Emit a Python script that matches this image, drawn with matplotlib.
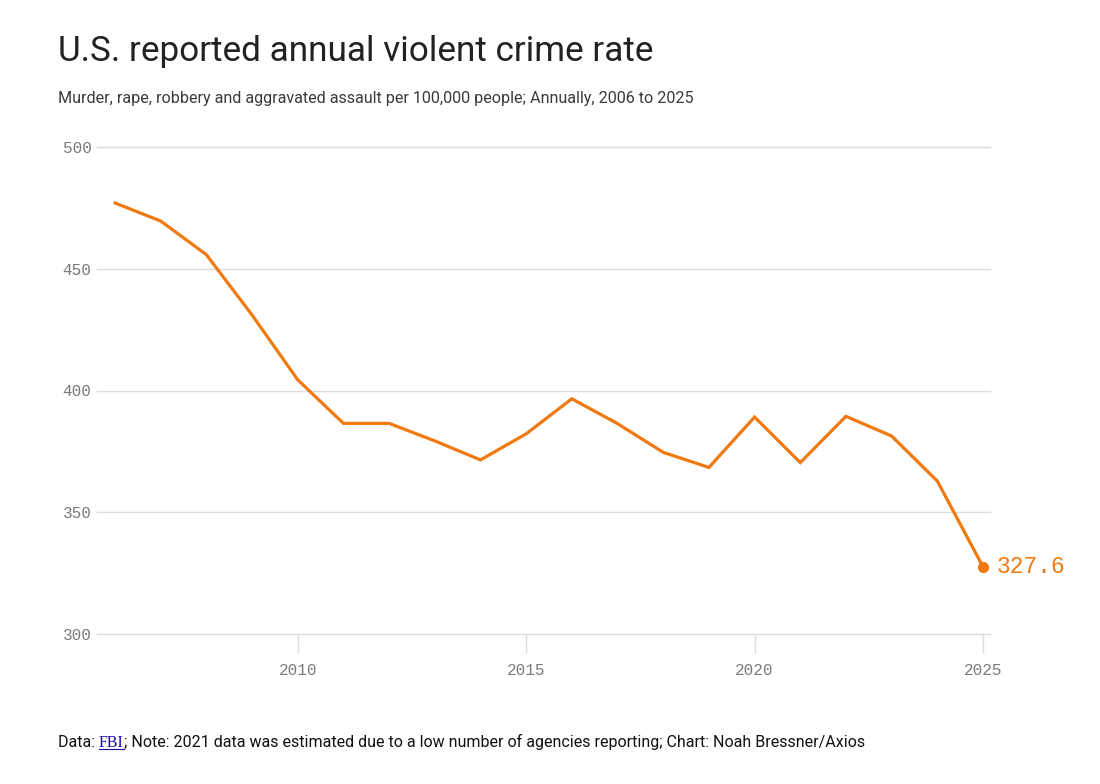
import matplotlib
matplotlib.use('Agg')
import matplotlib.pyplot as plt
import numpy as np

# Datos (tasa por 100.000 habitantes)
anios = [2006, 2007, 2008, 2009, 2010, 2011, 2012, 2013, 2014, 2015,
         2016, 2017, 2018, 2019, 2020, 2021, 2022, 2023, 2024, 2025]
tasa = [477.0, 469.6, 455.8, 431.0, 404.4, 386.5, 386.5, 379.3, 371.5, 382.2,
        396.6, 386.4, 374.6, 368.4, 389.1, 370.4, 389.4, 381.3, 362.8, 327.6]

y_ticks = [300, 350, 400, 450, 500]
x_ticks = [2010, 2015, 2020, 2025]

TITULO = 'U.S. reported annual violent crime rate'
SUBTITULO = ('Murder, rape, robbery and aggravated assault per 100,000 people; '
             'Annually, 2006 to 2025')

NARANJA = '#F07A10'
GRIS_GRILLA = '#DCDCDC'
GRIS_TEXTO = '#7A7A7A'
SANS = ['Roboto', 'DejaVu Sans']
MONO = ['Liberation Mono', 'DejaVu Sans Mono']

W, H = 1100, 784
fig = plt.figure(figsize=(W / 100, H / 100), dpi=100)

# ejes en pixeles: izquierda 97, derecha 990, arriba 147, abajo 634
ax = fig.add_axes([97 / W, 1 - 634 / H, (990 - 97) / W, (634 - 147) / H])
ax.set_xlim(2005.606, 2025.153)
ax.set_ylim(300, 500)

ax.plot(anios, tasa, color=NARANJA, lw=2.3, solid_joinstyle='miter', zorder=3)
ax.plot(anios[-1], tasa[-1], 'o', color=NARANJA, ms=7, zorder=4)
ax.annotate(f'{tasa[-1]:.1f}', (anios[-1], tasa[-1]), xytext=(10, 0),
            textcoords='offset points', va='center', ha='left',
            color=NARANJA, fontsize=16.5, family=MONO, annotation_clip=False)

for v in y_ticks:
    ax.axhline(v, color=GRIS_GRILLA, lw=1, zorder=1, clip_on=False)

for s in ax.spines.values():
    s.set_visible(False)

ax.set_yticks(y_ticks)
ax.set_xticks(x_ticks)
ax.tick_params(axis='y', length=0, pad=4, labelcolor=GRIS_TEXTO, labelsize=11.5)
ax.tick_params(axis='x', length=14, width=1, color=GRIS_GRILLA, pad=7,
               labelcolor=GRIS_TEXTO, labelsize=11.5)
for lab in ax.get_xticklabels() + ax.get_yticklabels():
    lab.set_family(MONO)

fig.text(58 / W, 1 - 61 / H, TITULO, fontsize=25.3, color='#222222',
         family=SANS, va='baseline')
fig.text(58 / W, 1 - 103 / H, SUBTITULO, fontsize=11.65, color='#3A3A3A',
         family=SANS, va='baseline')

# pie con el enlace FBI en azul subrayado
base_y = 1 - 747 / H
t1 = fig.text(58 / W, base_y, 'Data: ', fontsize=11.5, color='#111111',
              family=SANS, va='baseline')
fig.canvas.draw()
bb = t1.get_window_extent()
t2 = fig.text(bb.x1 / W, base_y, 'FBI', fontsize=11.5, color='#1A0DAB',
              family=['Liberation Serif', 'DejaVu Serif'], va='baseline')
bb2 = t2.get_window_extent()
fig.add_artist(plt.Line2D([bb2.x0 / W, bb2.x1 / W],
                          [base_y - 2 / H, base_y - 2 / H],
                          color='#1A0DAB', lw=0.8))
fig.text(bb2.x1 / W, base_y,
         '; Note: 2021 data was estimated due to a low number of agencies '
         'reporting; Chart: Noah Bressner/Axios',
         fontsize=11.5, color='#111111', family=SANS, va='baseline')

fig.savefig('out.png', dpi=100, facecolor='white')
